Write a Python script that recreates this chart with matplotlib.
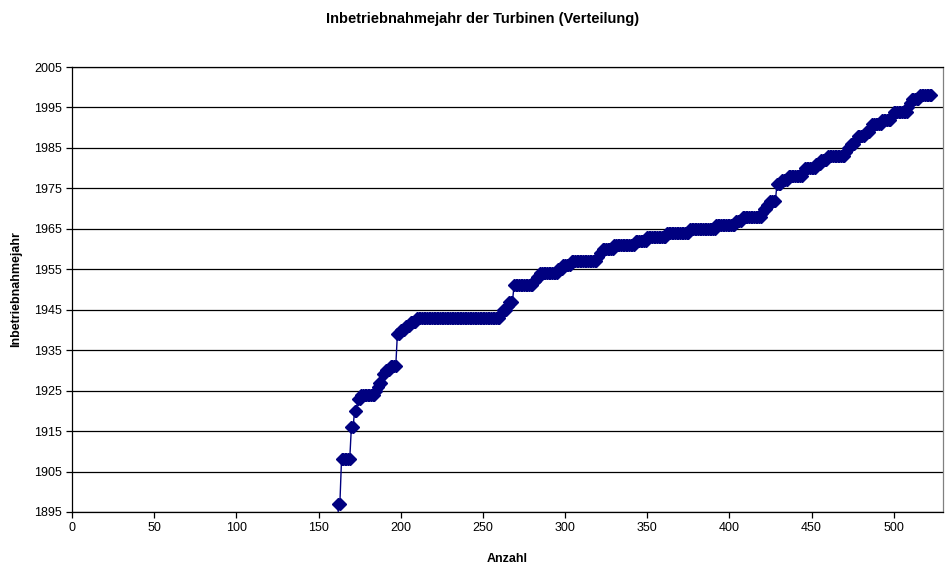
import numpy as np
import matplotlib
matplotlib.use("Agg")
import matplotlib.pyplot as plt

plt.rcParams['font.family'] = ['Liberation Sans', 'DejaVu Sans']

title = "Inbetriebnahmejahr der Turbinen (Verteilung)"
x_label = "Anzahl"
y_label = "Inbetriebnahmejahr"

# Sorted commissioning years (0 = unknown year, below the axis) and
# how many turbines share each year (read off the plateaus of the curve)
years = [0, 1897, 1908, 1916, 1920, 1923, 1924, 1925, 1926, 1927, 1929,
         1930, 1931, 1939, 1940, 1941, 1942, 1943, 1944, 1945, 1946,
         1947, 1951, 1952, 1953, 1954, 1955, 1956, 1957, 1958, 1959,
         1960, 1961, 1962, 1963, 1964, 1965, 1966, 1967, 1968, 1969,
         1970, 1971, 1972, 1976, 1977, 1978, 1979, 1980, 1981, 1982,
         1983, 1984, 1985, 1986, 1987, 1988, 1989, 1990, 1991, 1992,
         1993, 1994, 1995, 1996, 1997, 1998]
counts = [161, 2, 6, 2, 2, 2, 9, 1, 1, 2, 2,
          3, 4, 2, 3, 3, 4, 51, 1, 3, 1,
          3, 12, 2, 2, 11, 3, 5, 16, 1, 2,
          7, 13, 7, 12, 14, 16, 12, 4, 12, 1,
          2, 2, 4, 3, 4, 9, 1, 7, 3, 4,
          11, 1, 2, 3, 1, 5, 3, 1, 6, 6,
          1, 9, 1, 1, 5, 8]

x_ticks = list(range(0, 501, 50))
y_ticks = list(range(1895, 2006, 10))

values = np.repeat(years, counts)
index = np.arange(1, len(values) + 1)

fig = plt.figure(figsize=(9.47, 5.68), dpi=100)
ax = fig.add_axes([72 / 947, 1 - 512 / 568, (943 - 72) / 947, (512 - 67) / 568])

ax.plot(index, values, color='#000080', lw=1.0, marker='D', markersize=5.8,
        markeredgecolor='#000080', markerfacecolor='#000080', zorder=3)

ax.set_xlim(0, 530)
ax.set_ylim(1895, 2005)
ax.set_xticks(x_ticks)
ax.set_yticks(y_ticks)
ax.yaxis.grid(True, color='black', lw=0.9)
ax.set_axisbelow(True)

for s in ['left', 'bottom', 'top']:
    ax.spines[s].set_color('black')
    ax.spines[s].set_linewidth(0.9)
ax.spines['right'].set_color('#808080')
ax.spines['right'].set_linewidth(0.9)

ax.tick_params(axis='both', direction='out', length=4, width=0.9,
               labelsize=9, colors='black', pad=3)

ax.set_xlabel(x_label, fontsize=9, fontweight='bold', labelpad=14)
ax.set_ylabel(y_label, fontsize=9, fontweight='bold', labelpad=9)
fig.text(483 / 947, 1 - 19 / 568, title, ha='center', va='center',
         fontsize=10.5, fontweight='bold')

fig.savefig("out.png", dpi=100)
